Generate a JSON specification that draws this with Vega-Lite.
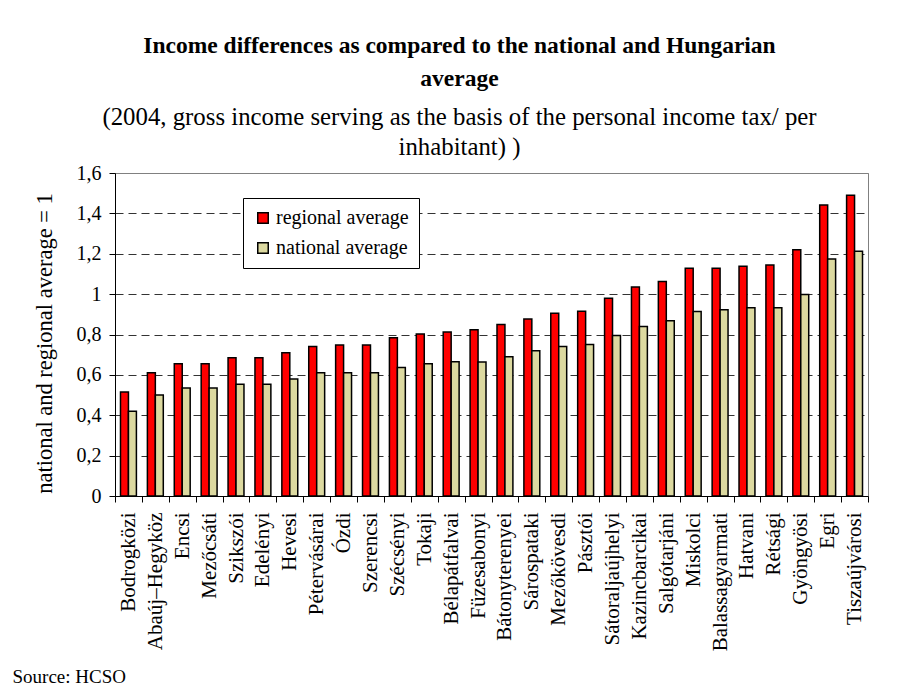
{
  "$schema": "https://vega.github.io/schema/vega-lite/v6.json",
  "autosize": {"type": "none"},
  "width": 753,
  "height": 323,
  "padding": {"left": 115, "top": 173, "right": 29, "bottom": 196},
  "background": "white",
  "title": {
    "text": ["Income differences as compared to the national and Hungarian", "average"],
    "subtitle": ["(2004, gross income serving as the basis of the personal income tax/ per", "inhabitant) )"],
    "font": "Liberation Serif",
    "subtitleFont": "Liberation Serif",
    "anchor": "middle",
    "dx": -32,
    "offset": 3
  },
  "data": {"values": [
    {"district": "Bodrogközi", "series": "regional average", "value": 0.515},
    {"district": "Bodrogközi", "series": "national average", "value": 0.42},
    {"district": "Abaúj–Hegyköz", "series": "regional average", "value": 0.61},
    {"district": "Abaúj–Hegyköz", "series": "national average", "value": 0.5},
    {"district": "Encsi", "series": "regional average", "value": 0.655},
    {"district": "Encsi", "series": "national average", "value": 0.535},
    {"district": "Mezőcsáti", "series": "regional average", "value": 0.655},
    {"district": "Mezőcsáti", "series": "national average", "value": 0.535},
    {"district": "Szikszói", "series": "regional average", "value": 0.685},
    {"district": "Szikszói", "series": "national average", "value": 0.553},
    {"district": "Edelényi", "series": "regional average", "value": 0.685},
    {"district": "Edelényi", "series": "national average", "value": 0.553},
    {"district": "Hevesi", "series": "regional average", "value": 0.71},
    {"district": "Hevesi", "series": "national average", "value": 0.58},
    {"district": "Pétervásárai", "series": "regional average", "value": 0.74},
    {"district": "Pétervásárai", "series": "national average", "value": 0.61},
    {"district": "Ózdi", "series": "regional average", "value": 0.748},
    {"district": "Ózdi", "series": "national average", "value": 0.61},
    {"district": "Szerencsi", "series": "regional average", "value": 0.748},
    {"district": "Szerencsi", "series": "national average", "value": 0.61},
    {"district": "Szécsényi", "series": "regional average", "value": 0.784},
    {"district": "Szécsényi", "series": "national average", "value": 0.637},
    {"district": "Tokaji", "series": "regional average", "value": 0.802},
    {"district": "Tokaji", "series": "national average", "value": 0.655},
    {"district": "Bélapátfalvai", "series": "regional average", "value": 0.812},
    {"district": "Bélapátfalvai", "series": "national average", "value": 0.665},
    {"district": "Füzesabonyi", "series": "regional average", "value": 0.823},
    {"district": "Füzesabonyi", "series": "national average", "value": 0.664},
    {"district": "Bátonyterenyei", "series": "regional average", "value": 0.85},
    {"district": "Bátonyterenyei", "series": "national average", "value": 0.69},
    {"district": "Sárospataki", "series": "regional average", "value": 0.877},
    {"district": "Sárospataki", "series": "national average", "value": 0.72},
    {"district": "Mezőkövesdi", "series": "regional average", "value": 0.905},
    {"district": "Mezőkövesdi", "series": "national average", "value": 0.74},
    {"district": "Pásztói", "series": "regional average", "value": 0.915},
    {"district": "Pásztói", "series": "national average", "value": 0.75},
    {"district": "Sátoraljaújhelyi", "series": "regional average", "value": 0.98},
    {"district": "Sátoraljaújhelyi", "series": "national average", "value": 0.795},
    {"district": "Kazincbarcikai", "series": "regional average", "value": 1.035},
    {"district": "Kazincbarcikai", "series": "national average", "value": 0.84},
    {"district": "Salgótarjáni", "series": "regional average", "value": 1.063},
    {"district": "Salgótarjáni", "series": "national average", "value": 0.868},
    {"district": "Miskolci", "series": "regional average", "value": 1.128},
    {"district": "Miskolci", "series": "national average", "value": 0.914},
    {"district": "Balassagyarmati", "series": "regional average", "value": 1.128},
    {"district": "Balassagyarmati", "series": "national average", "value": 0.923},
    {"district": "Hatvani", "series": "regional average", "value": 1.138},
    {"district": "Hatvani", "series": "national average", "value": 0.933},
    {"district": "Rétsági", "series": "regional average", "value": 1.144},
    {"district": "Rétsági", "series": "national average", "value": 0.933},
    {"district": "Gyöngyösi", "series": "regional average", "value": 1.22},
    {"district": "Gyöngyösi", "series": "national average", "value": 0.998},
    {"district": "Egri", "series": "regional average", "value": 1.442},
    {"district": "Egri", "series": "national average", "value": 1.174},
    {"district": "Tiszaújvárosi", "series": "regional average", "value": 1.49},
    {"district": "Tiszaújvárosi", "series": "national average", "value": 1.212}
  ]},
  "mark": {"type": "bar", "stroke": "black", "strokeWidth": 1.5},
  "encoding": {
    "x": {
      "field": "district", "type": "nominal", "sort": null,
      "scale": {"paddingInner": 0, "paddingOuter": 0},
      "axis": {
        "title": "Source: HCSO",
        "titleAnchor": "start",
        "titleAlign": "left",
        "titleBaseline": "alphabetic",
        "titleX": -103,
        "titleY": 186,
        "titleFont": "Liberation Serif",
        "titleFontSize": 19,
        "titleFontWeight": "normal",
        "labelFont": "Liberation Serif",
        "labelAngle": -90,
        "labelAlign": "right",
        "labelBaseline": "middle",
        "labelFontSize": 21,
        "labelPadding": 10,
        "labelOverlap": false,
        "tickBand": "extent",
        "tickSize": 6,
        "domainColor": "black",
        "tickColor": "black"
      }
    },
    "xOffset": {
      "field": "series", "type": "nominal",
      "sort": ["regional average", "national average"],
      "scale": {"paddingInner": 0, "paddingOuter": 0.69}
    },
    "y": {
      "field": "value", "type": "quantitative",
      "scale": {"domain": [0, 1.6], "nice": false},
      "axis": {
        "title": "national and regional average = 1",
        "values": [0, 0.2, 0.4, 0.6, 0.8, 1, 1.2, 1.4, 1.6],
        "labelExpr": "replace(format(datum.value, '.1~f'), '.', ',')",
        "titleFont": "Liberation Serif",
        "titleFontSize": 22.5,
        "titleFontWeight": "normal",
        "titlePadding": 20,
        "titleY": 170,
        "labelFont": "Liberation Serif",
        "labelFontSize": 20,
        "labelPadding": 8,
        "tickSize": 6,
        "domainColor": "black",
        "tickColor": "black",
        "grid": true,
        "gridColor": {"condition": {"test": "datum.value >= 1.6", "value": "#808080"}, "value": "#333333"},
        "gridDash": {"condition": {"test": "datum.value >= 1.6", "value": [1, 0]}, "value": [8, 5]},
        "gridWidth": 1
      }
    },
    "color": {
      "field": "series", "type": "nominal",
      "scale": {"domain": ["regional average", "national average"], "range": ["#ff0000", "#dcd9a0"]},
      "legend": {
        "title": null,
        "orient": "none",
        "legendX": 128,
        "legendY": 25,
        "direction": "vertical",
        "fillColor": "white",
        "strokeColor": "black",
        "padding": 10,
        "rowPadding": 10,
        "symbolType": "square",
        "symbolSize": 110,
        "symbolStrokeColor": "black",
        "symbolStrokeWidth": 1.5,
        "labelFont": "Liberation Serif",
        "labelFontSize": 20,
        "labelOffset": 3
      }
    }
  },
  "config": {
    "font": "Liberation Serif",
    "view": {"stroke": "#808080", "strokeWidth": 1},
    "axis": {"labelColor": "black", "titleColor": "black", "labelFont": "Liberation Serif", "titleFont": "Liberation Serif"},
    "legend": {"labelColor": "black", "labelFont": "Liberation Serif"},
    "title": {
      "font": "Liberation Serif",
      "fontSize": 23.5,
      "fontWeight": "bold",
      "color": "black",
      "lineHeight": 33,
      "subtitleFont": "Liberation Serif",
      "subtitleFontSize": 24.8,
      "subtitleColor": "black",
      "subtitleLineHeight": 30,
      "subtitlePadding": 15
    }
  }
}
